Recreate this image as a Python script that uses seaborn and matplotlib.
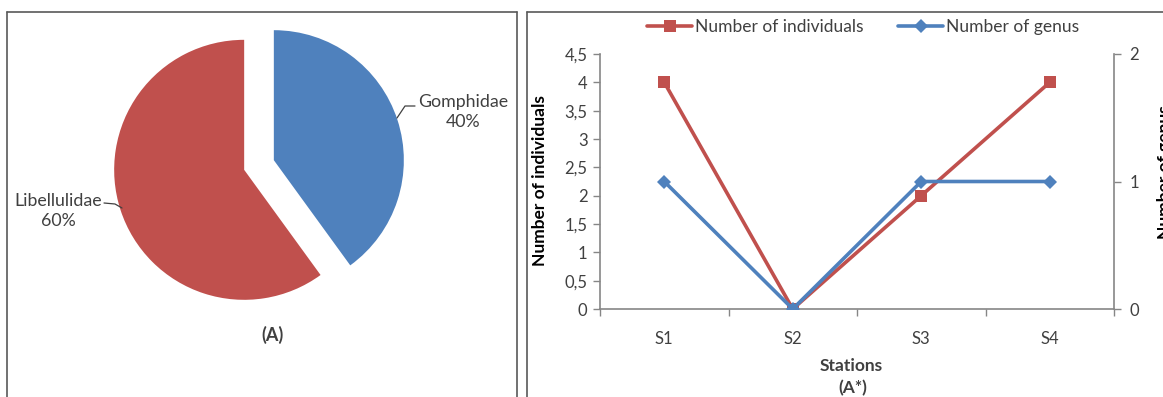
import numpy as np
import pandas as pd
import matplotlib
matplotlib.use("Agg")
import matplotlib.pyplot as plt
from matplotlib.lines import Line2D
from matplotlib.ticker import FuncFormatter
import seaborn as sns

# Family composition (percent of individuals)
families = ["Gomphidae", "Libellulidae"]
shares = [40, 60]

# Per-station counts
stations = ["S1", "S2", "S3", "S4"]
individuals = [4, 0, 2, 4]
genus = [1, 0, 1, 1]

RED = "#C0504D"
BLUE = "#4F81BD"
TEXT = "#404040"
AXIS = "#868686"
FRAME = "#595959"

sns.set_theme(style="white")
plt.rcParams["font.family"] = ["Lato", "DejaVu Sans"]
plt.rcParams["text.color"] = TEXT

W, H = 1163, 397
fig = plt.figure(figsize=(W / 100, H / 100), dpi=100)


def fx(px):
    return px / W


def fy(py):
    return 1 - py / H


# ---- panel frames ----
for (x0, y0, x1, y1) in [(7, 12, 517, 12), (7, 12, 7, 400), (517, 12, 517, 400),
                         (527, 12, 1170, 12), (527, 12, 527, 400)]:
    fig.add_artist(Line2D([fx(x0), fx(x1)], [fy(y0), fy(y1)], color=FRAME,
                          lw=1.2, transform=fig.transFigure))

# ---- pie panel ----
pax = fig.add_axes([fx(7), fy(397), fx(510), (397 - 12) / H])
cx, cy, R = 259, 165, 130  # centre and radius in pixels
pax.pie(shares, startangle=90, counterclock=False, colors=[BLUE, RED],
        explode=[0.12, 0.12], radius=1, wedgeprops=dict(linewidth=0))
pax.set_aspect("auto")
pax.set_xlim((7 - cx) / R, (517 - cx) / R)
pax.set_ylim((cy - 397) / R, (cy - 12) / R)
pax.axis("off")


def d(px, py):
    return (px - cx) / R, (cy - py) / R


lab_fs = 12.8
gx, gy = d(463, 112)
pax.text(gx, gy, f"{families[0]}\n{shares[0]}%", ha="center", va="center",
         fontsize=lab_fs, color=TEXT, linespacing=1.25)
lx, ly = d(58, 211)
pax.text(lx, ly, f"{families[1]}\n{shares[1]}%", ha="center", va="center",
         fontsize=lab_fs, color=TEXT, linespacing=1.25)
pts = [d(397, 118), d(405, 106), d(415, 106)]
pax.plot([p[0] for p in pts], [p[1] for p in pts], color=TEXT, lw=0.9)
pts = [d(104, 203), d(115, 204), d(122, 208)]
pax.plot([p[0] for p in pts], [p[1] for p in pts], color=TEXT, lw=0.9)
fig.text(fx(272), fy(335), "(A)", ha="center", va="center", fontsize=13,
         fontweight="bold", color=TEXT)

# ---- line panel ----
left, right, top, bottom = 600, 1114, 54, 309
ax = fig.add_axes([fx(left), fy(bottom), fx(right - left), (bottom - top) / H])
ax2 = ax.twinx()

df = pd.DataFrame({"station": stations, "individuals": individuals, "genus": genus})
sns.lineplot(data=df, x="station", y="individuals", ax=ax, color=RED, marker="s",
             markersize=9, markeredgewidth=0, linewidth=2.6, sort=False,
             label="Number of individuals")
sns.lineplot(data=df, x="station", y="genus", ax=ax2, color=BLUE, marker="D",
             markersize=7, markeredgewidth=0, linewidth=2.6, sort=False,
             label="Number of genus")
for a in (ax, ax2):
    if a.get_legend() is not None:
        a.get_legend().remove()
    a.set_xlabel("")
    a.set_ylabel("")
    a.grid(False)
    a.set_facecolor("none")

ax.set_xlim(-0.5, len(stations) - 0.5)
ax.set_ylim(0, 4.5)
ax2.set_ylim(0, 2)
ax.set_yticks(np.arange(0, 4.51, 0.5))
ax.yaxis.set_major_formatter(FuncFormatter(lambda v, _: f"{v:g}".replace(".", ",")))
ax2.set_yticks([0, 1, 2])

ax.set_xticks(np.arange(-0.5, len(stations), 1.0))
ax.set_xticklabels([])
ax.set_xticks(range(len(stations)), minor=True)
ax.set_xticklabels(stations, minor=True)
ax.tick_params(axis="x", which="major", direction="out", length=5, width=1,
               color=AXIS, bottom=True)
ax.tick_params(axis="x", which="minor", length=0, pad=16, labelsize=12,
               labelcolor=TEXT)
ax.tick_params(axis="y", direction="out", length=5, width=1, color=AXIS,
               labelsize=12, labelcolor=TEXT, left=True, pad=4)
ax2.tick_params(axis="y", direction="out", length=5, width=1, color=AXIS,
                labelsize=12, labelcolor=TEXT, right=True, pad=6)

for a in (ax, ax2):
    for s in a.spines.values():
        s.set_color(AXIS)
        s.set_linewidth(1.2)
    a.spines["top"].set_visible(False)
ax.spines["right"].set_visible(False)
ax2.spines["left"].set_visible(False)
ax2.spines["bottom"].set_visible(False)

fig.text(fx(540), fy(181), "Number of individuals", rotation=90, ha="center",
         va="center", fontsize=12.5, fontweight="bold", color="black")
fig.text(fx(1165), fy(172), "Number of genus", rotation=90, ha="center",
         va="center", fontsize=12.5, fontweight="bold", color="black")
fig.text(fx(851), fy(366), "Stations", ha="center", va="center", fontsize=12.5,
         fontweight="bold", color=TEXT)
fig.text(fx(853), fy(388), "(A*)", ha="center", va="center", fontsize=12.5,
         fontweight="bold", color=TEXT)

h1, l1 = ax.get_legend_handles_labels()
h2, l2 = ax2.get_legend_handles_labels()
fig.legend(h1 + h2, l1 + l2, loc="center", bbox_to_anchor=(fx(863), fy(27)),
           ncol=2, frameon=False, handlelength=2.6, columnspacing=2.0,
           handletextpad=0.15, fontsize=12.5, labelcolor=TEXT)

fig.savefig("out.png", dpi=100, facecolor="white")
